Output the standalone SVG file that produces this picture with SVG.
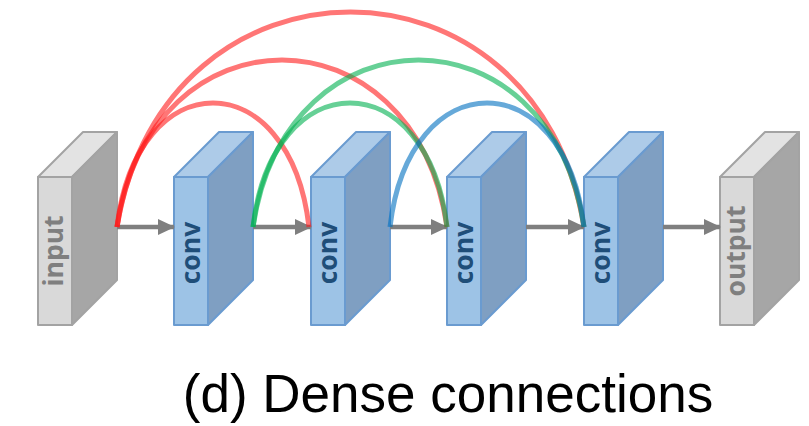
<svg xmlns="http://www.w3.org/2000/svg" width="809" height="426" viewBox="0 0 809 426">
<defs>
<style>
.gf{fill:#d9d9d9;stroke:#a3a3a3;stroke-width:2;stroke-linejoin:round}
.gt{fill:#e3e3e3;stroke:#a3a3a3;stroke-width:2;stroke-linejoin:round}
.gs{fill:#a6a6a6;stroke:#a3a3a3;stroke-width:2;stroke-linejoin:round}
.bf{fill:#9dc3e6;stroke:#6a9bd0;stroke-width:2;stroke-linejoin:round}
.bt{fill:#adcbe8;stroke:#6a9bd0;stroke-width:2;stroke-linejoin:round}
.bs{fill:#7f9fc2;stroke:#6a9bd0;stroke-width:2;stroke-linejoin:round}
.lbl{font-family:"Open Sans","DejaVu Sans",sans-serif;font-weight:bold;font-size:26.5px;text-anchor:middle}
.gl{fill:#7f7f7f}
.bl{fill:#1f4e79}
.arrow{stroke:#7f7f7f;stroke-width:4.5;fill:none;marker-end:url(#ah)}
.arc{fill:none;stroke-width:5;stroke-opacity:0.6;stroke-linecap:butt}
.red{stroke:#ff1a1a}
.green{stroke:#00b050}
.blue{stroke:#0070c0}
.cap{font-family:"Liberation Sans",Arial,sans-serif;font-size:53px;fill:#000;text-anchor:middle}
</style>
<marker id="ah" markerWidth="17" markerHeight="16" viewBox="0 0 17 16" refX="16" refY="8" orient="auto" markerUnits="userSpaceOnUse">
<path d="M0,0 L17,8 L0,16 Z" fill="#7f7f7f"/>
</marker>
</defs>
<rect width="809" height="426" fill="#ffffff"/>

<g id="input">
<polygon class="gt" points="38,177 83,132 117,132 72,177"/>
<polygon class="gs" points="72,177 117,132 117,280 72,325"/>
<rect class="gf" x="38" y="177" width="34" height="148"/>
<text class="lbl gl" transform="translate(63,251) rotate(-90)">input</text>
</g>

<g id="conv1">
<polygon class="bt" points="174,177 219,132 253,132 208,177"/>
<polygon class="bs" points="208,177 253,132 253,280 208,325"/>
<rect class="bf" x="174" y="177" width="34" height="148"/>
<text class="lbl bl" transform="translate(200,253) rotate(-90)">conv</text>
</g>

<g id="conv2">
<polygon class="bt" points="311,177 356,132 390,132 345,177"/>
<polygon class="bs" points="345,177 390,132 390,280 345,325"/>
<rect class="bf" x="311" y="177" width="34" height="148"/>
<text class="lbl bl" transform="translate(337,253) rotate(-90)">conv</text>
</g>

<g id="conv3">
<polygon class="bt" points="447,177 492,132 526,132 481,177"/>
<polygon class="bs" points="481,177 526,132 526,280 481,325"/>
<rect class="bf" x="447" y="177" width="34" height="148"/>
<text class="lbl bl" transform="translate(473,253) rotate(-90)">conv</text>
</g>

<g id="conv4">
<polygon class="bt" points="584,177 629,132 663,132 618,177"/>
<polygon class="bs" points="618,177 663,132 663,280 618,325"/>
<rect class="bf" x="584" y="177" width="34" height="148"/>
<text class="lbl bl" transform="translate(610,253) rotate(-90)">conv</text>
</g>

<g id="output">
<polygon class="gt" points="720,177 765,132 799,132 754,177"/>
<polygon class="gs" points="754,177 799,132 799,280 754,325"/>
<rect class="gf" x="720" y="177" width="34" height="148"/>
<text class="lbl gl" transform="translate(745,251) rotate(-90)">output</text>
</g>

<g id="connectors">
<line class="arrow" x1="117" y1="227" x2="174" y2="227"/>
<line class="arrow" x1="253" y1="227" x2="311" y2="227"/>
<line class="arrow" x1="390" y1="227" x2="447" y2="227"/>
<line class="arrow" x1="526" y1="227" x2="584" y2="227"/>
<line class="arrow" x1="663" y1="227" x2="720" y2="227"/>

<path class="arc red" d="M117,227 C136,61.7 290,61.7 309,227"/>
<path class="arc red" d="M117,227 C150,4.3 414,4.3 447,227"/>
<path class="arc red" d="M117,227 C164,-59.7 537,-59.7 584,227"/>
<path class="arc green" d="M253,227 C272,61.7 428,61.7 447,227"/>
<path class="arc green" d="M253,227 C286,4.3 551,4.3 584,227"/>
<path class="arc blue" d="M390,227 C409,61.7 565,61.7 584,227"/>
</g>

<text class="cap" x="448" y="412">(d) Dense connections</text>
</svg>
